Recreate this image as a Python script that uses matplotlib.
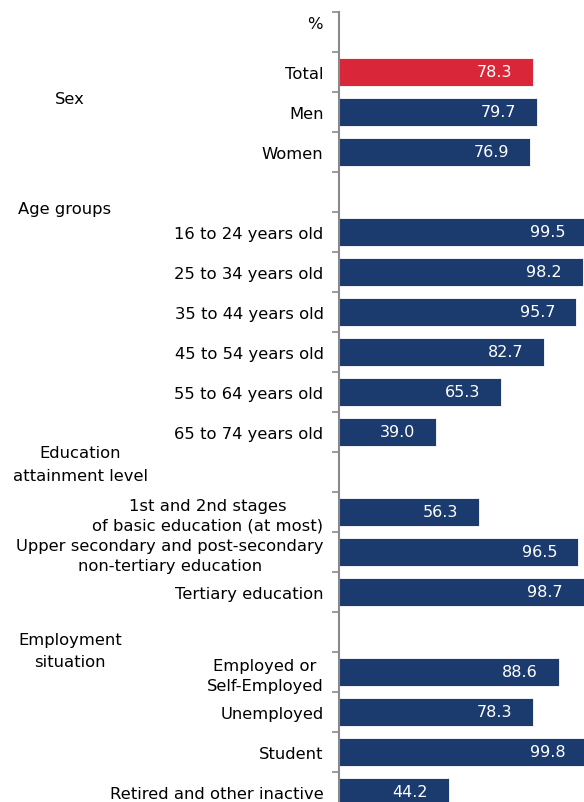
import matplotlib.pyplot as plt
import matplotlib.transforms as mtransforms

# slot labels, top to bottom ('' = spacer row)
labels = ['', 'Total', 'Men', 'Women', '',
          '16 to 24 years old', '25 to 34 years old', '35 to 44 years old',
          '45 to 54 years old', '55 to 64 years old', '65 to 74 years old', '',
          '1st and 2nd stages\nof basic education (at most)',
          'Upper secondary and post-secondary\nnon-tertiary education',
          'Tertiary education', '',
          'Employed or\nSelf-Employed', 'Unemployed', 'Student',
          'Retired and other inactive']
values = [None, 78.3, 79.7, 76.9, None,
          99.5, 98.2, 95.7, 82.7, 65.3, 39.0, None,
          56.3, 96.5, 98.7, None,
          88.6, 78.3, 99.8, 44.2]

groups = ['Sex', 'Age groups', 'Education\nattainment level', 'Employment\nsituation']
group_y = [1.675, 4.42, 10.8, 15.47]
group_x = [0.12, 0.031, 0.137, 0.12]
group_ha = ['center', 'left', 'center', 'center']

navy = '#1b3b6e'
red = '#da2639'

fig = plt.figure(figsize=(5.84, 8.03), dpi=100)
ax = fig.add_axes([338.8 / 584, 1 - 813 / 803, 248.3 / 584, 800 / 803])

for i, v in enumerate(values):
    if v is None:
        continue
    color = red if labels[i] == 'Total' else navy
    ax.barh(i, v, height=0.72, color=color, edgecolor='white', linewidth=0.6)
    ax.annotate(f'{v:.1f}', xy=(v, i), xytext=(-15, 0), textcoords='offset points',
                ha='right', va='center', color='white', fontsize=11.5)

ax.set_xlim(0, 100)
ax.set_ylim(19.5, -0.5)
ax.set_yticks(range(len(labels)))
ax.set_yticklabels(labels, fontsize=11.8, multialignment='center', linespacing=1.35)
ax.set_yticks([i - 0.5 for i in range(len(labels) + 1)], minor=True)
ax.tick_params(axis='y', which='major', length=0, pad=11)
ax.tick_params(axis='y', which='minor', length=5, color='#8a8a8a', width=1.2)
ax.set_xticks([])
for side in ['top', 'right', 'bottom']:
    ax.spines[side].set_visible(False)
ax.spines['left'].set_color('#8a8a8a')
ax.spines['left'].set_linewidth(1.5)

# unit marker above the first row
ax.text(-0.065, -0.22, '%', transform=mtransforms.blended_transform_factory(ax.transAxes, ax.transData),
        ha='right', va='center', fontsize=11.8)

trans = mtransforms.blended_transform_factory(fig.transFigure, ax.transData)
for g, gx, gy, ha in zip(groups, group_x, group_y, group_ha):
    fig.text(gx, gy, g, transform=trans, ha=ha, va='center', fontsize=11.8,
             multialignment='center', linespacing=1.6)

fig.savefig('out.png', dpi=100)
